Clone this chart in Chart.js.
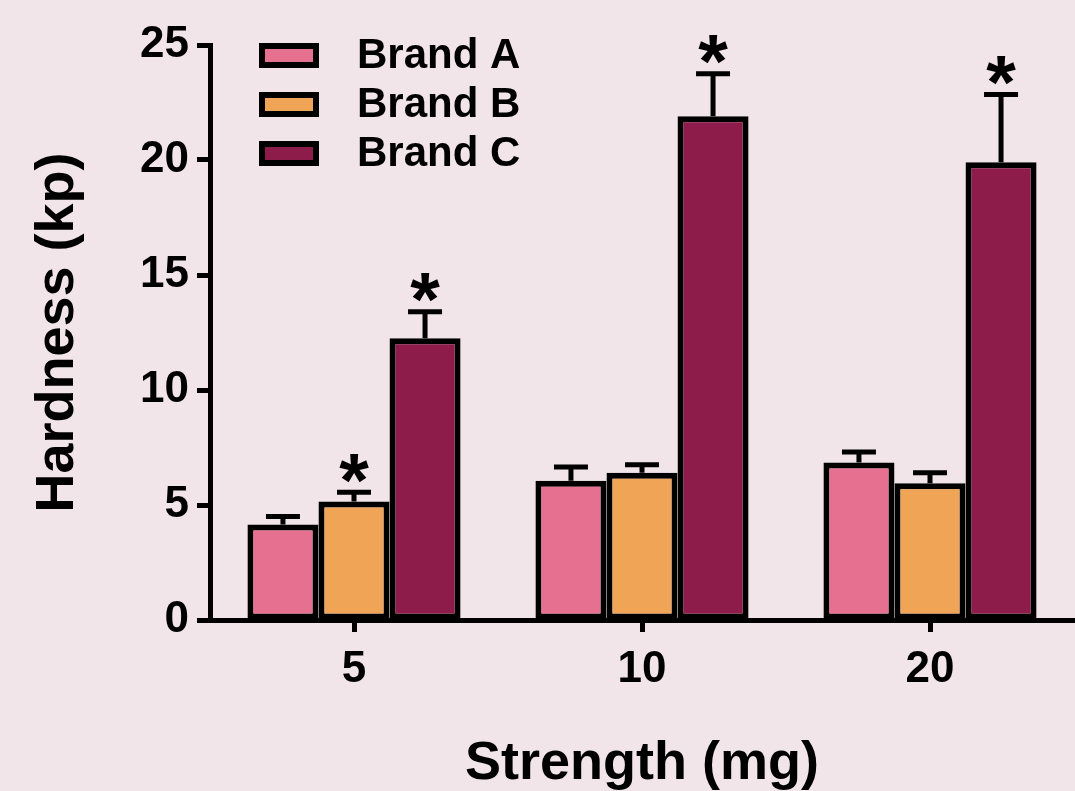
<!DOCTYPE html>
<html>
<head>
<meta charset="utf-8">
<script src="https://cdn.jsdelivr.net/npm/chart.js@4.4.1/dist/chart.umd.min.js"></script>
<style>
  html, body { margin: 0; padding: 0; background: #f2e5ea; }
  canvas { display: block; }
</style>
</head>
<body>
<canvas id="grafico" width="1075" height="791"></canvas>
<script>
// Dados
const categorias = ['5', '10', '20'];
const marcas = ['Brand A', 'Brand B', 'Brand C'];
const mediaA = [4.15, 6.05, 6.85];
const mediaB = [5.15, 6.4, 5.95];
const mediaC = [12.25, 21.9, 19.9];
const erroA = [0.35, 0.6, 0.45];
const erroB = [0.4, 0.35, 0.45];
const erroC = [1.15, 1.85, 2.95];
const signifA = [false, false, false];
const signifB = [true, false, false];
const signifC = [true, true, true];
const ticksY = [0, 5, 10, 15, 20, 25];

const cores = ['#e5708f', '#f0a556', '#8e1c4b'];
const fonte = '"Liberation Sans", Arial, Helvetica, sans-serif';

// Barras de erro e asteriscos
const pluginErros = {
    id: 'erros',
    afterDatasetsDraw(chart) {
        const ctx = chart.ctx;
        const y = chart.scales.y;
        ctx.save();
        ctx.strokeStyle = '#000';
        ctx.fillStyle = '#000';
        ctx.lineWidth = 5;
        chart.data.datasets.forEach((ds, i) => {
            const meta = chart.getDatasetMeta(i);
            meta.data.forEach((bar, j) => {
                const topo = y.getPixelForValue(ds.data[j]);
                const cap = y.getPixelForValue(ds.data[j] + ds.erro[j]);
                ctx.beginPath();
                ctx.moveTo(bar.x, topo);
                ctx.lineTo(bar.x, cap);
                ctx.moveTo(bar.x - 17, cap);
                ctx.lineTo(bar.x + 17, cap);
                ctx.stroke();
                if (ds.signif[j]) {
                    const tam = 76;
                    ctx.font = 'bold ' + tam + 'px ' + fonte;
                    ctx.textAlign = 'center';
                    ctx.textBaseline = 'alphabetic';
                    ctx.fillText('*', bar.x, cap - 16 + 0.39 * tam);
                }
            });
        });
        ctx.restore();
    }
};

// Legenda vertical desenhada à mão
const pluginLegenda = {
    id: 'legendaManual',
    afterDraw(chart) {
        const ctx = chart.ctx;
        ctx.save();
        chart.data.datasets.forEach((ds, i) => {
            const cy = 55.5 + i * 49;
            ctx.fillStyle = ds.backgroundColor;
            ctx.fillRect(259, cy - 12.5, 60, 25);
            ctx.strokeStyle = '#000';
            ctx.lineWidth = 6;
            ctx.strokeRect(262, cy - 9.5, 54, 19);
            ctx.fillStyle = '#000';
            ctx.font = 'bold 42px ' + fonte;
            ctx.textAlign = 'left';
            ctx.textBaseline = 'middle';
            ctx.fillText(ds.label, 357, cy + 1);
        });
        ctx.restore();
    }
};

function criarDataset(i, dados, erro, signif) {
    return {
        label: marcas[i],
        data: dados,
        erro: erro,
        signif: signif,
        backgroundColor: cores[i],
        borderColor: '#000',
        borderWidth: 6,
        borderSkipped: false,
        categoryPercentage: 0.74,
        barPercentage: 1.0
    };
}

new Chart(document.getElementById('grafico'), {
    type: 'bar',
    data: {
        labels: categorias,
        datasets: [
            criarDataset(0, mediaA, erroA, signifA),
            criarDataset(1, mediaB, erroB, signifB),
            criarDataset(2, mediaC, erroC, signifC)
        ]
    },
    options: {
        responsive: false,
        animation: false,
        devicePixelRatio: 1,
        layout: { padding: { top: 45, right: 1, left: 0, bottom: 0 } },
        plugins: {
            legend: { display: false },
            tooltip: { enabled: false }
        },
        scales: {
            x: {
                afterFit: s => { s.height = 171; },
                grid: {
                    offset: false,
                    drawOnChartArea: false,
                    drawTicks: true,
                    tickLength: 12,
                    tickWidth: 5,
                    tickColor: '#000'
                },
                border: { display: true, width: 5, color: '#000' },
                ticks: {
                    color: '#000',
                    padding: 11,
                    font: { family: fonte, size: 44, weight: 'bold' }
                },
                title: {
                    display: true,
                    text: 'Strength (mg)',
                    color: '#000',
                    padding: { top: 0, bottom: 0 },
                    font: { family: fonte, size: 54, weight: 'bold', lineHeight: 1 }
                }
            },
            y: {
                min: 0,
                max: 25,
                afterFit: s => { s.width = 210; },
                afterBuildTicks: s => { s.ticks = ticksY.map(v => ({ value: v })); },
                grid: {
                    drawOnChartArea: false,
                    drawTicks: true,
                    tickLength: 13,
                    tickWidth: 5,
                    tickColor: '#000'
                },
                border: { display: true, width: 5, color: '#000' },
                ticks: {
                    color: '#000',
                    padding: 8,
                    font: { family: fonte, size: 44, weight: 'bold' }
                },
                title: {
                    display: true,
                    text: 'Hardness (kp)',
                    color: '#000',
                    padding: { top: 31, bottom: 0 },
                    font: { family: fonte, size: 54, weight: 'bold', lineHeight: 1 }
                }
            }
        }
    },
    plugins: [pluginErros, pluginLegenda]
});
</script>
</body>
</html>
